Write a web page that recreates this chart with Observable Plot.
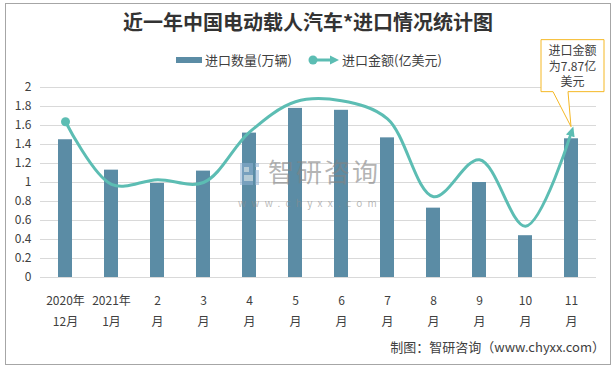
<!DOCTYPE html>
<html><head><meta charset="utf-8">
<script src="https://cdn.jsdelivr.net/npm/d3@7"></script>
<script src="https://cdn.jsdelivr.net/npm/@observablehq/plot@0.6"></script>
<style>
body{margin:0;background:#fff;font-family:"Noto Sans CJK SC",sans-serif;}
#wrap{position:relative;width:616px;height:369px;overflow:hidden;background:#fff;}
#frame{position:absolute;left:5px;top:3px;width:606px;height:362px;border:1px solid #a6a6a6;box-sizing:border-box;}
#chart{position:absolute;left:0;top:0;}
.abs{position:absolute;white-space:nowrap;}
#title{left:0;width:616px;top:7px;height:30px;line-height:30px;text-align:center;font-size:20px;font-weight:700;color:#333;}
.legtxt{font-size:13px;color:#404040;height:20px;line-height:20px;top:50px;}
#caption{right:11px;top:337px;height:20px;line-height:20px;font-size:13px;color:#404040;}
#wm{left:268px;top:158px;font-size:26px;line-height:26px;color:rgba(130,130,130,0.6);letter-spacing:2px;}
#wm2{left:238px;top:198px;font-size:10px;line-height:10px;color:rgba(140,140,140,0.6);letter-spacing:5.3px;}
#logo{left:240px;top:163px;width:22px;height:22px;}
</style></head>
<body>
<div id="wrap">
  <div id="chart"></div>
  <div id="frame"></div>
  <div id="title" class="abs">近一年中国电动载人汽车*进口情况统计图</div>
  <div class="abs" style="left:176px;top:57px;width:26px;height:6px;background:#5b8ca5;"></div>
  <div class="abs legtxt" style="left:205px;">进口数量(万辆)</div>
  <svg class="abs" style="left:308px;top:54px;" width="32" height="12">
    <line x1="5" y1="6" x2="24" y2="6" stroke="#5cbdb3" stroke-width="3"/>
    <circle cx="5" cy="6" r="4.5" fill="#5cbdb3"/>
    <path d="M22,1.5L31,6L22,10.5Z" fill="#5cbdb3"/>
  </svg>
  <div class="abs legtxt" style="left:342px;">进口金额(亿美元)</div>
  <div id="caption" class="abs">制图：智研咨询（www.chyxx.com）</div>
  <svg id="logo" class="abs" width="22" height="22" style="opacity:0.55">
    <rect x="0" y="0" width="13" height="22" fill="#8fb2d4"/>
    <rect x="4" y="4" width="5" height="5" fill="#fff"/>
    <rect x="4" y="12" width="9" height="6" fill="#fff"/>
    <rect x="15" y="0" width="4" height="4" fill="#8fb2d4"/>
    <rect x="15" y="7" width="4" height="15" fill="#8fb2d4"/>
  </svg>
  <div id="wm" class="abs">智研咨询</div>
  <div id="wm2" class="abs">www.chyxx.com</div>
</div>
<script>
const months = ["2020年\n12月","2021年\n1月","2\n月","3\n月","4\n月","5\n月","6\n月","7\n月","8\n月","9\n月","10\n月","11\n月"];
const importQty = [1.45,1.13,0.99,1.12,1.52,1.78,1.76,1.47,0.73,1.00,0.44,1.46];
const importValueCurve = [1.64,0.98,1.03,1.00,1.53,1.85,1.86,1.67,0.85,1.24,0.54,1.53];
const yTicks = [0,0.2,0.4,0.6,0.8,1,1.2,1.4,1.6,1.8,2];
const calloutLines = ["进口金额","为7.87亿","美元"];

const data = months.map((m,i)=>({m, q: importQty[i], v: importValueCurve[i]}));
const LINE = "#5cbdb3";

const plot = Plot.plot({
  width:616, height:369,
  marginTop:87, marginBottom:92, marginLeft:40, marginRight:20,
  style:{fontFamily:'"Noto Sans CJK SC", sans-serif', fontSize:"12px", color:"#404040", background:"transparent", overflow:"visible"},
  x:{domain: months, paddingInner:0.7, paddingOuter:0.35, label:null},
  y:{domain:[0,2], label:null},
  marks:[
    Plot.gridY(yTicks,{stroke:"#d9d9d9", strokeOpacity:1, strokeWidth:1}),
    Plot.barY(data,{x:"m", y:"q", fill:"#5b8ca5"}),
    Plot.line(data,{x:"m", y:"v", stroke:LINE, strokeWidth:3, curve:"catmull-rom"}),
    Plot.dot(data.slice(0,1),{x:"m", y:"v", r:4.5, fill:LINE}),
    Plot.axisY({ticks:yTicks, tickSize:0, tickPadding:9, tickFormat:d=>String(d), fontSize:12}),
    Plot.axisX({tickSize:0, tickPadding:13, fontSize:12, lineHeight:1.75})
  ]
});
document.getElementById("chart").appendChild(plot);

// arrow marker at the end of the value line
const svg = d3.select(plot);
const defs = svg.insert("defs", ":first-child");
defs.append("marker").attr("id","arrowEnd").attr("viewBox","0 -5 10 10")
  .attr("refX",4).attr("refY",0).attr("markerWidth",10).attr("markerHeight",10)
  .attr("markerUnits","userSpaceOnUse").attr("orient","auto")
  .append("path").attr("d","M0,-4.5L10,0L0,4.5Z").attr("fill",LINE);
svg.select('g[aria-label="line"] path').attr("marker-end","url(#arrowEnd)");

// callout anchored to the last value point
const xs = plot.scale("x"), ys = plot.scale("y");
const last = data[data.length-1];
const tx = xs.apply(last.m) + xs.bandwidth/2, ty = ys.apply(last.v) - 5;
const bl = tx-30, br = tx+33, bt = ty-87, bb = ty-35;
const g = svg.append("g");
g.append("path")
  .attr("d",`M${bl},${bt}H${br}V${bb}H${tx-3}L${tx},${ty}L${tx-18},${bb}H${bl}Z`)
  .attr("fill","#fff").attr("stroke","#f5b825").attr("stroke-width",1);
g.selectAll("text").data(calloutLines).join("text")
  .attr("x",(bl+br)/2).attr("y",(d,i)=>bt+11.5+i*15.5).attr("dy","0.35em")
  .attr("text-anchor","middle").attr("font-size",12).attr("fill","#404040")
  .text(d=>d);
</script>
</body></html>
